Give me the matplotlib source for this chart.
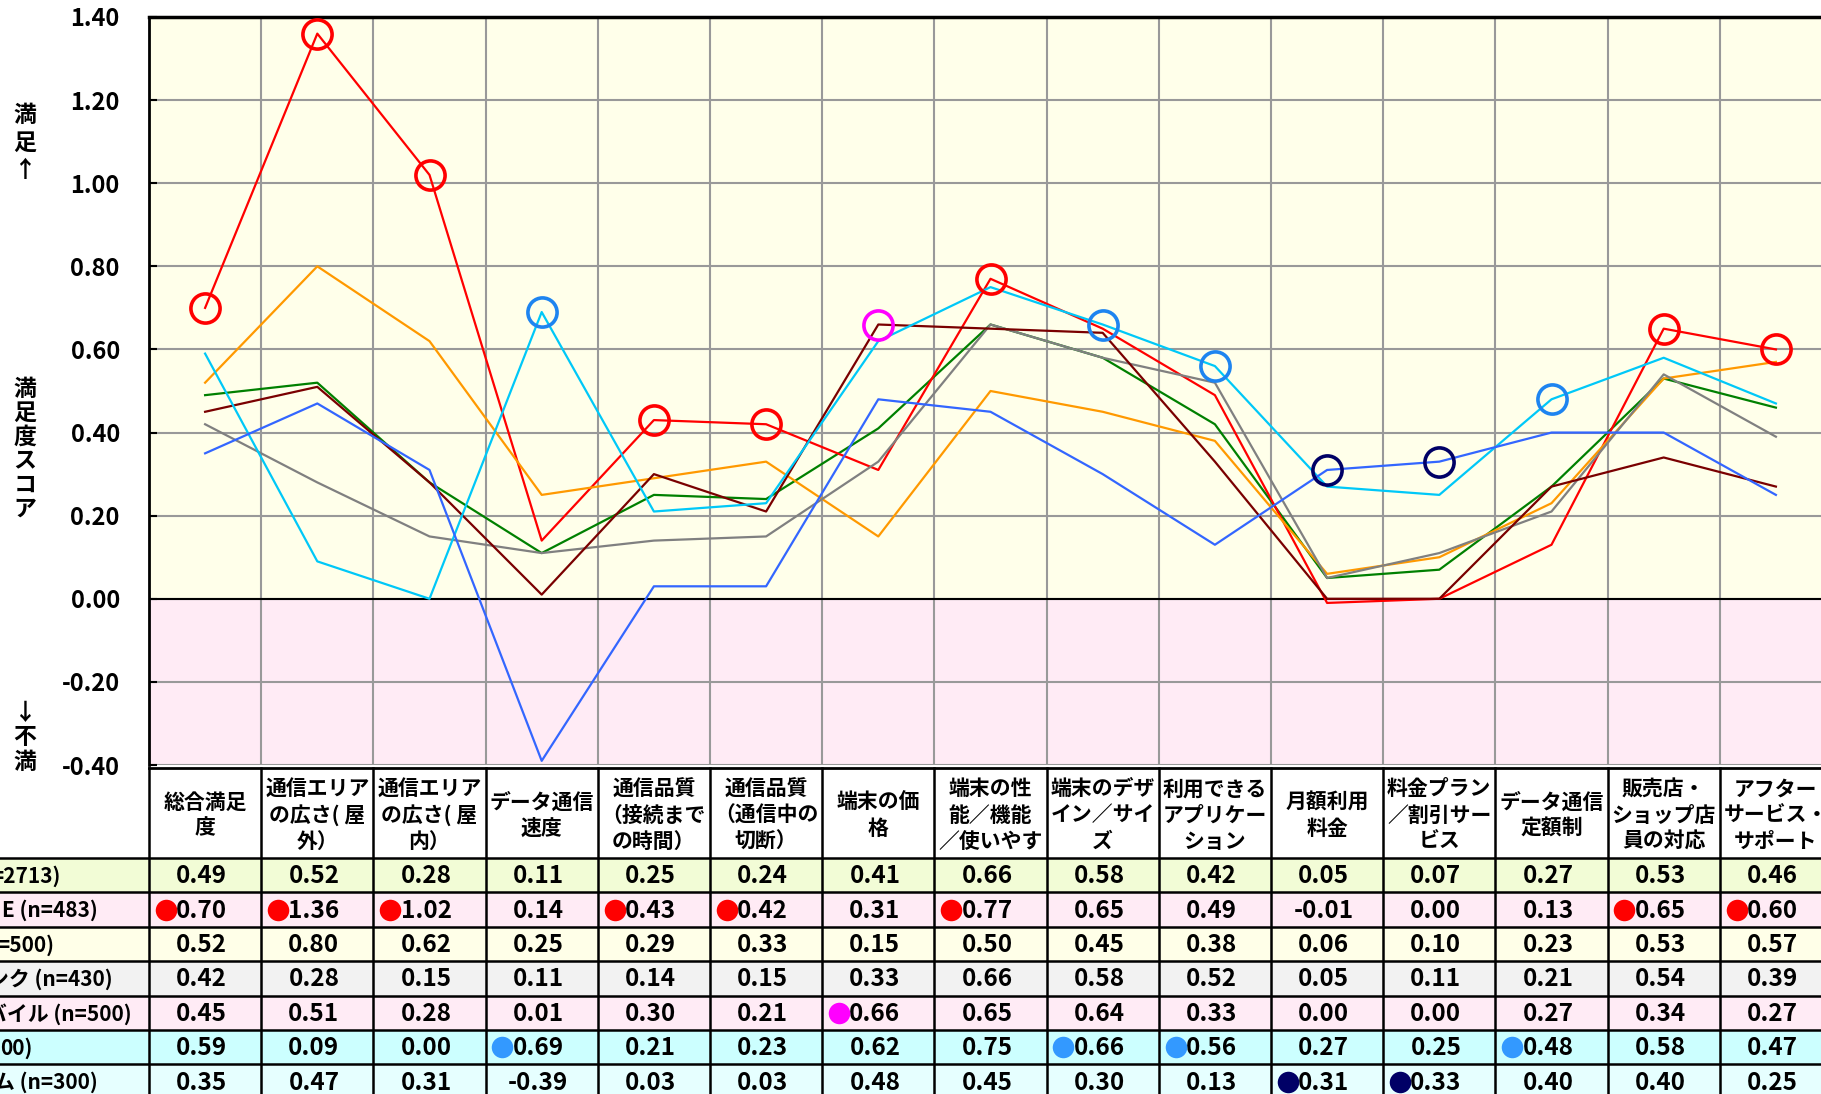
import numpy as np
import matplotlib
matplotlib.use("Agg")
import matplotlib.pyplot as plt
from matplotlib.patches import Rectangle
from matplotlib.ticker import FuncFormatter

plt.rcParams['font.family'] = ['Noto Sans CJK JP', 'DejaVu Sans']
plt.rcParams['axes.unicode_minus'] = False

# ---------------- data ----------------
categories = [
    "総合満足\n度",
    "通信エリア\nの広さ( 屋\n外）",
    "通信エリア\nの広さ( 屋\n内）",
    "データ通信\n速度",
    "通信品質\n（接続まで\nの時間）",
    "通信品質\n（通信中の\n切断）",
    "端末の価\n格",
    "端末の性\n能／機能\n／使いやす",
    "端末のデザ\nイン／サイ\nズ",
    "利用できる\nアプリケー\nション",
    "月額利用\n料金",
    "料金プラン\n／割引サー\nビス",
    "データ通信\n定額制",
    "販売店・\nショップ店\n員の対応",
    "アフター\nサービス・\nサポート",
]

row_labels = ["=2713)", "E (n=483)", "=500)", "ンク (n=430)", "バイル (n=500)", "00)", "ム (n=300)"]

score_1 = [0.49, 0.52, 0.28, 0.11, 0.25, 0.24, 0.41, 0.66, 0.58, 0.42, 0.05, 0.07, 0.27, 0.53, 0.46]
score_2 = [0.70, 1.36, 1.02, 0.14, 0.43, 0.42, 0.31, 0.77, 0.65, 0.49, -0.01, 0.00, 0.13, 0.65, 0.60]
score_3 = [0.52, 0.80, 0.62, 0.25, 0.29, 0.33, 0.15, 0.50, 0.45, 0.38, 0.06, 0.10, 0.23, 0.53, 0.57]
score_4 = [0.42, 0.28, 0.15, 0.11, 0.14, 0.15, 0.33, 0.66, 0.58, 0.52, 0.05, 0.11, 0.21, 0.54, 0.39]
score_5 = [0.45, 0.51, 0.28, 0.01, 0.30, 0.21, 0.66, 0.65, 0.64, 0.33, 0.00, 0.00, 0.27, 0.34, 0.27]
score_6 = [0.59, 0.09, 0.00, 0.69, 0.21, 0.23, 0.62, 0.75, 0.66, 0.56, 0.27, 0.25, 0.48, 0.58, 0.47]
score_7 = [0.35, 0.47, 0.31, -0.39, 0.03, 0.03, 0.48, 0.45, 0.30, 0.13, 0.31, 0.33, 0.40, 0.40, 0.25]

highlight_1 = []
highlight_2 = [0, 1, 2, 4, 5, 7, 13, 14]
highlight_3 = []
highlight_4 = []
highlight_5 = [6]
highlight_6 = [3, 8, 9, 12]
highlight_7 = [10, 11]

yticks = [-0.40, -0.20, 0.00, 0.20, 0.40, 0.60, 0.80, 1.00, 1.20, 1.40]

# ---------------- styles ----------------
series = [score_1, score_2, score_3, score_4, score_5, score_6, score_7]
highlights = [highlight_1, highlight_2, highlight_3, highlight_4, highlight_5, highlight_6, highlight_7]
line_colors = ['#008000', '#FF0000', '#FF9900', '#808080', '#7A0000', '#00C8F8', '#3366FF']
mark_colors = [None, '#FF0000', None, None, '#FF00FF', '#1E84F0', '#000066']
dot_colors = [None, '#FF0000', None, None, '#FF00FF', '#3399FF', '#000066']
row_bg = ['#F2FCD6', '#FFEBF5', '#FFFFE8', '#F2F2F2', '#FFEBF5', '#CCFFFF', '#E6FFFF']

W, H = 1821, 1094
fig = plt.figure(figsize=(W / 100, H / 100), dpi=100)

left_px, top_px, bot_px = 149, 17, 765
col_w = 112.2
n = len(categories)
ax = fig.add_axes([left_px / W, 1 - bot_px / H, n * col_w / W, (bot_px - top_px) / H])
x = np.arange(n)

ax.set_xlim(-0.5, n - 0.5)
ax.set_ylim(-0.4, 1.4)
ax.axhspan(0, 1.4, color='#FFFFEA', zorder=0, lw=0)
ax.axhspan(-0.4, 0, color='#FFEBF5', zorder=0, lw=0)

ax.set_yticks(yticks)
ax.yaxis.set_major_formatter(FuncFormatter(lambda v, p: f"{v:.2f}"))
ax.set_xticks([])
ax.set_xticks(np.arange(0.5, n - 0.5, 1), minor=True)
ax.grid(True, which='major', axis='y', color='#999999', lw=1.5, zorder=1)
ax.grid(True, which='minor', axis='x', color='#999999', lw=1.5, zorder=1)
ax.tick_params(axis='x', which='both', length=0)
ax.tick_params(axis='y', direction='in', length=6, width=1.5, color='black',
               labelsize=17, pad=21)
for lab in ax.get_yticklabels():
    lab.set_fontweight('bold')
ax.axhline(0, color='black', lw=1.5, zorder=2)
ax.spines['top'].set_linewidth(2.5)
ax.spines['left'].set_linewidth(2)
ax.spines['bottom'].set_visible(False)
ax.spines['right'].set_visible(False)

for vals, c in zip(series, line_colors):
    ax.plot(x, vals, color=c, lw=1.6, zorder=3, clip_on=False)
for vals, hl, mc in zip(series, highlights, mark_colors):
    if hl:
        hv = np.array(vals)[hl]
        ax.plot(x[hl], hv, linestyle='none', marker='o', ms=21, mfc='none',
                mec=mc, mew=2.6, zorder=5, clip_on=False)

# ---------------- table ----------------
tab_top = 768
head_h = 90
row_h = 34.4
n_rows = len(series)
tab_h = head_h + n_rows * row_h
tab = fig.add_axes([left_px / W, 1 - (tab_top + tab_h) / H, n * col_w / W, tab_h / H])
tab.set_xlim(-0.5, n - 0.5)
tab.set_ylim(tab_h, 0)
tab.axis('off')

label_w = left_px / col_w  # label area width in column units
x0 = -0.5 - label_w
x1 = n - 0.5

# header cells
tab.add_patch(Rectangle((-0.5, 0), n, head_h, facecolor='white', edgecolor='none', zorder=0))
for i, cat in enumerate(categories):
    tab.text(i, head_h / 2 + 2, cat, ha='center', va='center', fontsize=15,
             fontweight='bold', linespacing=1.3, zorder=3)

# data rows
for r, (vals, hl, dc, bg) in enumerate(zip(series, highlights, dot_colors, row_bg)):
    y0 = head_h + r * row_h
    yc = y0 + row_h / 2
    tab.add_patch(Rectangle((x0, y0), x1 - x0, row_h, facecolor=bg, edgecolor='none',
                            zorder=0, clip_on=False))
    for i, v in enumerate(vals):
        tab.text(i - 0.03, yc + 1, f"{v:.2f}", ha='center', va='center', fontsize=17.5,
                 fontweight='bold', zorder=3)
    if hl:
        tab.scatter(np.array(hl) - 0.35, [yc] * len(hl), s=240, color=dc, zorder=4,
                    clip_on=False, linewidths=0)

# row label fragments (left part of the labels is cut off in the reference)
label_ends = [61, 98, 54, 113, 132, 33, 98]
for r, (lab, e) in enumerate(zip(row_labels, label_ends)):
    yc = head_h + r * row_h + row_h / 2
    xe = -0.5 - (left_px - e) / col_w
    tab.text(xe, yc + 1, lab, ha='right', va='center', fontsize=15, fontweight='bold',
             zorder=3, clip_on=False)

# grid lines of the table
tab.plot([-0.5, x1], [0, 0], color='black', lw=2, zorder=5, clip_on=False)
for r in range(n_rows + 1):
    yy = head_h + r * row_h
    tab.plot([x0, x1], [yy, yy], color='black', lw=1.8, zorder=5, clip_on=False)
for k in range(n + 1):
    xx = k - 0.5
    tab.plot([xx, xx], [0, tab_h], color='black', lw=1.8, zorder=5, clip_on=False)

# y axis side labels
def vtext(s, yc, ls):
    fig.text(25 / W, 1 - yc / H, "\n".join(s), ha='center', va='center', fontsize=16.5,
             fontweight='bold', linespacing=ls)

vtext("満足↑", 143, 1.25)
vtext("満足度スコア", 449, 1.05)
vtext("↓不満", 738, 1.1)

fig.savefig("out.png", dpi=100)
